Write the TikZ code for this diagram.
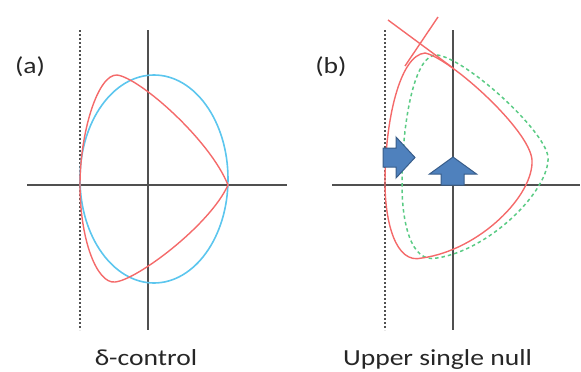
\documentclass[tikz,border=0pt]{standalone}
\usepackage{fontspec}
\setmainfont{Carlito}
\definecolor{axisgray}{HTML}{505050}
\definecolor{redline}{HTML}{F46A6A}
\definecolor{blueline}{HTML}{5CC6EE}
\definecolor{greenline}{HTML}{5ACB84}
\definecolor{arrowfill}{HTML}{4F81BD}
\definecolor{arrowedge}{HTML}{385D8A}
\tikzset{
  axisline/.style={draw=axisgray, line width=1.3pt},
  guideline/.style={draw=axisgray, line width=1.2pt, dash pattern=on 2pt off 2pt},
  redcurve/.style={draw=redline, line width=1.4pt},
  bluecurve/.style={draw=blueline, line width=1.6pt},
  greencurve/.style={draw=greenline, line width=1.5pt, dash pattern=on 3.5pt off 3pt},
  blockarrow/.style={fill=arrowfill, draw=arrowedge, line width=1pt, line join=miter},
  lbl/.style={font=\fontsize{23}{27}\selectfont, inner sep=0pt, anchor=base, text=black!85}
}
\begin{document}
\begin{tikzpicture}[x=1pt, y=-1pt]
\useasboundingbox (0,0) rectangle (581,372);
% ---------- panel (a) ----------
\draw[guideline] (80,30) -- (80,330);
\draw[axisline] (148,30) -- (148,330);
\draw[axisline] (27,185) -- (287,185);
\draw[bluecurve] (154,179) ellipse [x radius=74, y radius=104];
\draw[redcurve] (80,185) .. controls (80,132) and (98,74) .. (117,75)
  .. controls (140,78) and (210,140) .. (228,185)
  .. controls (210,225) and (137,280) .. (115,282)
  .. controls (97,284) and (80,240) .. (80,185) -- cycle;
\node[lbl] (la) at (30,73) {\scalebox{1.2}[1]{(a)}};
\node[lbl] (ca) at (146,365) {\scalebox{1.2}[1]{δ-control}};
% ---------- panel (b) ----------
\draw[guideline] (385,30) -- (385,330);
\draw[axisline] (453,30) -- (453,330);
\draw[axisline] (332,185) -- (580,185);
\draw[greencurve] (437,55) .. controls (465,58) and (545,130) .. (548,157)
  .. controls (550,190) and (490,250) .. (437,258)
  .. controls (410,264) and (402,220) .. (402,185)
  .. controls (402,120) and (415,53) .. (437,55) -- cycle;
\draw[redcurve] (425,53) .. controls (450,58) and (530,130) .. (532,160)
  .. controls (534,195) and (480,250) .. (422,258)
  .. controls (395,265) and (385,220) .. (385,183)
  .. controls (385,120) and (400,55) .. (425,53) -- cycle;
\coordinate (xp1) at (388,20);
\coordinate (xp2) at (453,68);
\coordinate (xp3) at (438,17);
\coordinate (xp4) at (405,66);
\draw[redcurve] (xp1) -- (xp2);
\draw[redcurve] (xp3) -- (xp4);
\draw[blockarrow] (383,148) -- (396,148) -- (396,137) -- (415,157.5) -- (396,178) -- (396,167) -- (383,167) -- cycle;
\draw[blockarrow] (441,185) -- (441,174) -- (429.5,174) -- (453,157) -- (476.5,174) -- (464,174) -- (464,185) -- cycle;
\node[lbl] (lb) at (331,73) {\scalebox{1.2}[1]{(b)}};
\node[lbl] (cb) at (437.5,365) {\scalebox{1.2}[1]{Upper single null}};
\end{tikzpicture}
\end{document}
